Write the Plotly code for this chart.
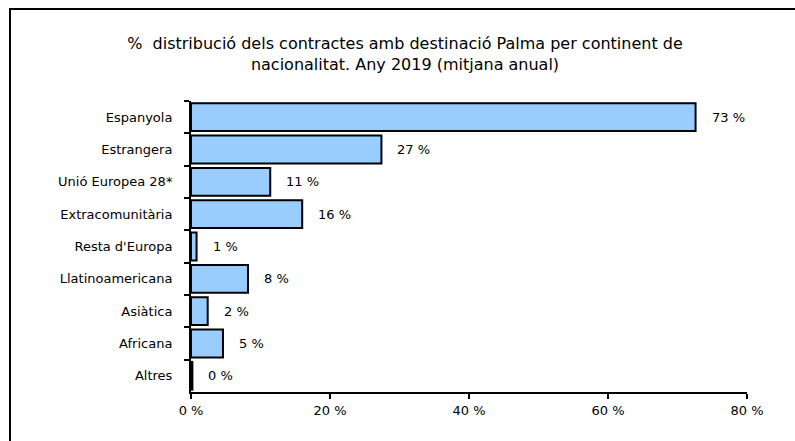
import plotly.graph_objects as go

# Distribution of contracts in Palma by continent of nationality, 2019 (annual mean)
categories = [
    "Espanyola",
    "Estrangera",
    "Unió Europea 28*",
    "Extracomunitària",
    "Resta d'Europa",
    "Llatinoamericana",
    "Asiàtica",
    "Africana",
    "Altres",
]
shares = [72.6, 27.4, 11.4, 16.0, 0.8, 8.2, 2.4, 4.6, 0.2]
x_ticks = [0, 20, 40, 60, 80]
x_tick_labels = [f"{v} %" for v in x_ticks]

title_text = ("%  distribució dels contractes amb destinació Palma per continent de"
              "<br>nacionalitat. Any 2019 (mitjana anual)")

FONT = "DejaVu Sans"

fig = go.Figure(
    go.Bar(
        x=shares,
        y=categories,
        orientation="h",
        marker=dict(color="#99CCFF", line=dict(color="black", width=2)),
        width=0.86,
        hoverinfo="skip",
    )
)

# value labels to the right of each bar
for cat, val in zip(categories, shares):
    fig.add_annotation(
        x=val, y=cat, xref="x", yref="y",
        text=f"{val:.0f} %", showarrow=False,
        xanchor="left", xshift=14,
        font=dict(family=FONT, size=13, color="black"),
    )

# outer frame of the chart
fig.add_shape(
    type="rect", xref="paper", yref="paper",
    x0=(10 - 191) / 556, x1=1.3, y0=-0.4, y1=(392 - 9) / 291,
    line=dict(color="black", width=2), fillcolor="rgba(0,0,0,0)",
    layer="below",
)

fig.update_layout(
    width=795, height=441,
    margin=dict(l=191, r=48, t=101, b=49),
    paper_bgcolor="white", plot_bgcolor="white",
    showlegend=False,
    font=dict(family=FONT, size=13, color="black"),
    title=dict(
        text=title_text, x=405 / 795, xanchor="center",
        y=1 - 49 / 441, yanchor="middle",
        font=dict(family=FONT, size=16, color="black"),
    ),
    xaxis=dict(
        range=[0, 80], tickmode="array", tickvals=x_ticks, ticktext=x_tick_labels,
        showgrid=False, zeroline=False,
        showline=True, linecolor="black", linewidth=2,
        ticks="outside", ticklen=5, tickwidth=2, tickcolor="black",
    ),
    yaxis=dict(
        autorange="reversed", showgrid=False, zeroline=False,
        showline=True, linecolor="black", linewidth=2,
        ticks="outside", ticklen=5, tickwidth=2, tickcolor="black",
        tickson="boundaries", ticklabelstandoff=14,
    ),
)

fig.write_html("out.html")
